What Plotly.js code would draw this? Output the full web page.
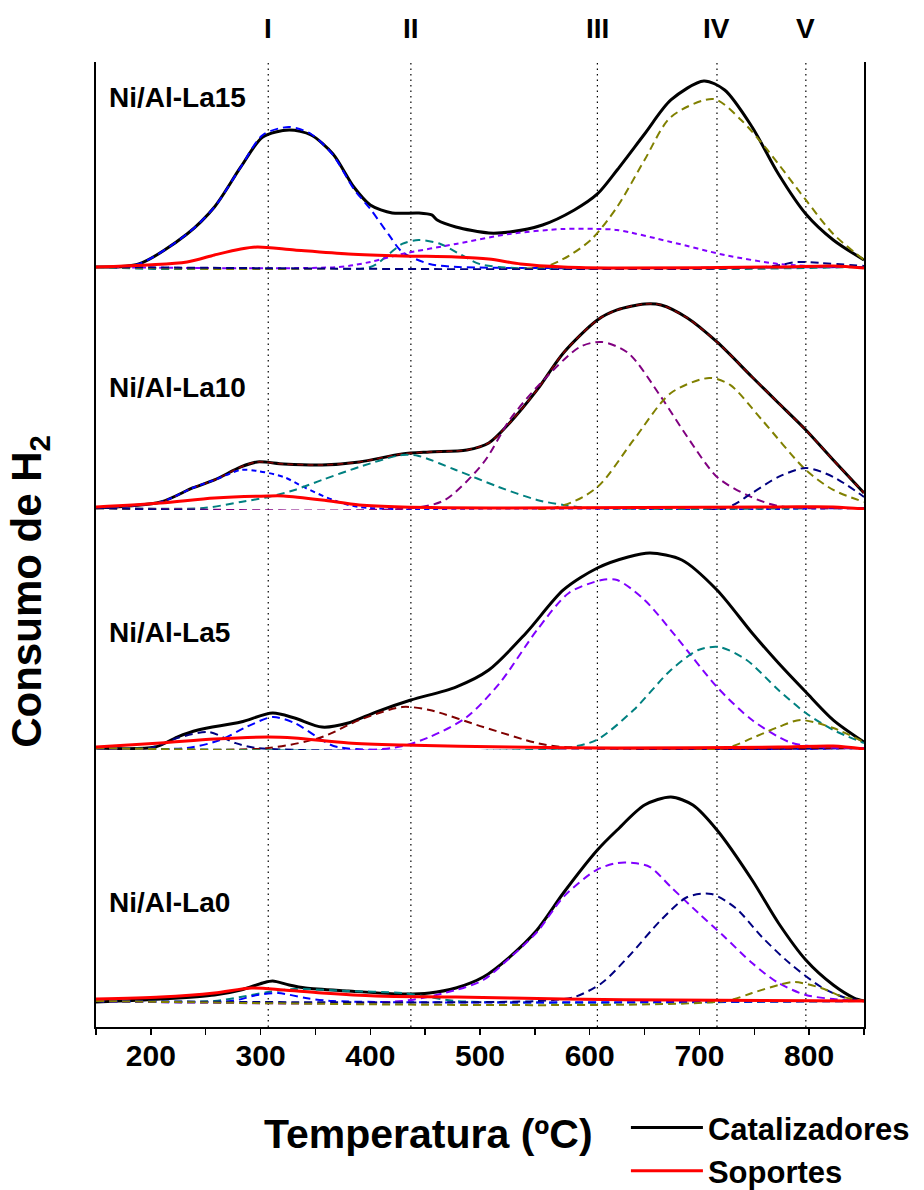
<!DOCTYPE html>
<html>
<head>
<meta charset="utf-8">
<script src="https://cdn.plot.ly/plotly-3.0.1.min.js"></script>
<style>html,body{margin:0;padding:0;background:#fff;}#chart{width:924px;height:1190px;}</style>
</head>
<body>
<div id="chart"></div>
<script>
// ---------- DATA (temperature in ºC, H2 consumption in a.u.) ----------
const peakPositions = [307, 437, 607, 716, 797];
const peakLabels = ['I', 'II', 'III', 'IV', 'V'];
const sampleNames = ['Ni/Al-La15', 'Ni/Al-La10', 'Ni/Al-La5', 'Ni/Al-La0'];
const xTickVals = [200, 300, 400, 500, 600, 700, 800];

// Ni/Al-La15
const la15TotalX = [150,189,233,258,282,302,326,346,366,385,400,420,444,456,461,478,508,527,557,586,607,625,650,674,704,723,748,772,797,822,850];
const la15TotalY = [0,3,33,60,100,130,137,132,113,80,62,54,54,52,47,40,34,35,42,57,73,97,133,167,186,177,140,93,53,27,7];
const la15SupX = [150,233,258,282,297,331,380,429,478,508,537,576,625,772,822,850];
const la15SupY = [0,5,12,18,20,17,13,11,10,8,3,0,-1,0,1,-1];
const la15BlueX = [150,189,233,258,282,302,326,346,366,385,400,417,429,454,480,850];
const la15BlueY = [0,3,33,60,100,132,140,133,112,78,58,32,15,3,0,0];
const la15TealX = [150,400,417,429,444,464,483,503,850];
const la15TealY = [0,0,13,23,27,23,12,2,0];
const la15VioletX = [150,371,400,429,478,527,576,607,625,674,723,772,822,850];
const la15VioletY = [0,0,5,13,23,33,38,38,37,25,12,3,0,0];
const la15OliveX = [150,557,576,601,625,650,674,713,738,762,797,822,850];
const la15OliveY = [0,0,8,27,60,107,150,168,147,117,67,33,7];
const la15NavyX = [150,760,790,810,850];
const la15NavyY = [0,0,5,4,1];

// Ni/Al-La10
const la10TotalX = [150,209,238,258,282,297,321,356,390,429,454,488,508,527,552,576,607,625,650,665,689,716,748,772,797,822,850];
const la10TotalY = [0,6,20,28,41,46,44,43,46,54,56,58,65,85,118,155,188,198,204,203,190,166,131,105,78,48,15];
const la10SupX = [150,209,258,307,321,356,390,429,527,772,822,850];
const la10SupY = [1,5,10,12,12,8,3,1,0,1,1,-1];
const la10BlueX = [150,209,238,258,282,297,321,341,366,390,850];
const la10BlueY = [0,6,20,28,38,37,31,20,8,1,0];
const la10TealX = [150,248,282,307,331,356,390,429,444,478,517,552,576,601,850];
const la10TealY = [0,0,6,11,18,28,41,53,52,38,21,8,3,0,0];
const la10PurpleX = [150,439,468,503,527,552,591,611,635,665,689,716,743,772,850];
const la10PurpleY = [0,0,8,45,88,121,161,166,155,111,71,31,13,2,0];
const la10OliveX = [150,567,606,640,674,709,728,757,797,822,850];
const la10OliveY = [0,0,20,68,115,130,123,88,38,18,6];
const la10NavyX = [150,723,748,772,797,822,850];
const la10NavyY = [0,0,15,31,40,31,11];

// Ni/Al-La5
const la5TotalX = [150,204,224,243,282,311,331,356,380,405,437,478,508,542,576,607,635,655,684,716,748,772,797,822,850];
const la5TotalY = [0,1,11,18,26,35,30,21,25,36,48,61,78,115,158,180,191,195,188,158,115,85,56,28,6];
const la5SupX = [150,209,258,307,331,380,429,527,625,772,822,850];
const la5SupY = [1,5,9,11,10,5,3,1,0,1,2,-1];
const la5NavyX = [150,199,224,253,277,297,850];
const la5NavyY = [0,0,10,16,5,0,0];
const la5BlueX = [150,233,263,287,311,331,356,370,850];
const la5BlueY = [0,0,8,21,31,25,8,1,0];
const la5MaroonX = [150,307,356,390,429,454,503,552,576,850];
const la5MaroonY = [0,0,11,28,41,38,21,5,1,0];
const la5VioletX = [150,420,454,488,518,552,581,611,625,650,679,716,748,782,811,850];
const la5VioletY = [0,0,11,31,65,118,155,168,168,148,111,61,28,6,1,0];
const la5TealX = [150,576,606,640,674,699,718,743,772,797,822,850];
const la5TealY = [0,0,8,38,78,98,101,88,58,35,18,5];
const la5OliveX = [150,723,748,772,792,822,850];
const la5OliveY = [0,0,10,21,28,20,6];

// Ni/Al-La0
const la0TotalX = [150,209,258,282,302,311,326,341,380,429,454,478,503,527,552,576,607,625,650,674,694,716,748,772,797,822,841,850];
const la0TotalY = [-1,2,6,11,18,20,16,13,10,7,8,13,24,44,71,108,151,171,196,204,196,171,121,78,41,16,3,0];
const la0SupX = [150,209,258,292,321,356,405,478,576,674,850];
const la0SupY = [2,4,8,13,11,8,5,4,2,1,0];
const la0TealX = [150,258,282,307,331,380,429,454,478,850];
const la0TealY = [0,0,4,9,12,10,8,4,0,0];
const la0BlueX = [150,273,297,316,341,366,850];
const la0BlueY = [0,0,6,8,3,0,0];
const la0VioletX = [150,429,478,503,527,552,576,606,625,640,655,674,699,723,748,772,797,822,850];
const la0VioletY = [0,0,11,21,43,69,104,131,138,138,134,114,88,64,38,18,6,2,0];
const la0NavyX = [150,552,586,611,635,665,689,711,733,757,782,811,831,850];
const la0NavyY = [0,0,4,18,44,81,104,107,93,64,38,14,4,0];
const la0OliveX = [150,723,748,772,787,811,831,850];
const la0OliveY = [0,0,8,16,19,13,4,0];

// ---------- STYLE ----------
const FONT = 'Arial, "Liberation Sans", sans-serif';
const C = {blue:'#0000FF', teal:'#008080', violet:'#8000FF', purple:'#800080', olive:'#808000', navy:'#000080', maroon:'#800000'};
const DASH = '8px,5px';
const SHORTDASH = '5px,4px';

function tr(x, y, yaxis, color, width, dash, name, showlegend) {
  return {
    type: 'scatter', mode: 'lines', x: x, y: y, xaxis: 'x', yaxis: yaxis,
    line: {color: color, width: width, dash: dash || 'solid', shape: 'spline', smoothing: 0.8},
    name: name || ' ', showlegend: !!showlegend, hoverinfo: 'skip'
  };
}

const traces = [
  // Panel La15 (top) -> y4
  tr(la15TotalX, la15TotalY, 'y4', '#000', 3, 'solid', 'Catalizadores', true),
  tr(la15BlueX, la15BlueY, 'y4', C.blue, 2, DASH),
  tr(la15TealX, la15TealY, 'y4', C.teal, 2, DASH),
  tr(la15VioletX, la15VioletY, 'y4', C.violet, 2, SHORTDASH),
  tr(la15OliveX, la15OliveY, 'y4', C.olive, 2, DASH),
  tr(la15NavyX, la15NavyY, 'y4', C.navy, 2, DASH),
  tr(la15SupX, la15SupY, 'y4', '#FF0000', 3, 'solid', 'Soportes', true),
  // Panel La10 -> y3
  tr(la10TotalX, la10TotalY, 'y3', '#000', 3, 'solid'),
  tr(la10TotalX, la10TotalY, 'y3', C.maroon, 1.5, '6px,4px'),
  tr(la10BlueX, la10BlueY, 'y3', C.blue, 2, SHORTDASH),
  tr(la10TealX, la10TealY, 'y3', C.teal, 2, DASH),
  tr(la10PurpleX, la10PurpleY, 'y3', C.purple, 2, DASH),
  tr(la10OliveX, la10OliveY, 'y3', C.olive, 2, DASH),
  tr(la10NavyX, la10NavyY, 'y3', C.navy, 2, DASH),
  tr(la10SupX, la10SupY, 'y3', '#FF0000', 3, 'solid'),
  // Panel La5 -> y2
  tr(la5TotalX, la5TotalY, 'y2', '#000', 3, 'solid'),
  tr(la5NavyX, la5NavyY, 'y2', C.navy, 2, DASH),
  tr(la5BlueX, la5BlueY, 'y2', C.blue, 2, DASH),
  tr(la5MaroonX, la5MaroonY, 'y2', C.maroon, 2, DASH),
  tr(la5VioletX, la5VioletY, 'y2', C.violet, 2, DASH),
  tr(la5TealX, la5TealY, 'y2', C.teal, 2, DASH),
  tr(la5OliveX, la5OliveY, 'y2', C.olive, 2, DASH),
  tr(la5SupX, la5SupY, 'y2', '#FF0000', 3, 'solid'),
  // Panel La0 (bottom) -> y
  tr(la0TotalX, la0TotalY, 'y', '#000', 3, 'solid'),
  tr(la0TealX, la0TealY, 'y', C.teal, 2, DASH),
  tr(la0BlueX, la0BlueY, 'y', C.blue, 2, DASH),
  tr(la0VioletX, la0VioletY, 'y', C.violet, 2, DASH),
  tr(la0NavyX, la0NavyY, 'y', C.navy, 2, DASH),
  tr(la0OliveX, la0OliveY, 'y', C.olive, 2, DASH),
  tr(la0SupX, la0SupY, 'y', '#FF0000', 3, 'solid')
];

function yax(domain, range) {
  return {domain: domain, range: range, anchor: 'x', showticklabels: false, ticks: '', showgrid: false,
          zeroline: false, showline: true, mirror: true, linecolor: '#000', linewidth: 2, fixedrange: true};
}

const shapes = peakPositions.map(p => ({
  type: 'line', xref: 'x', yref: 'paper', x0: p, x1: p, y0: 0, y1: 1, layer: 'below',
  line: {color: '#000', width: 1.2, dash: '1.5px,4px'}
}));

const labelY = [0.9627, 0.6622, 0.4093, 0.1295];
const annotations = [];
peakLabels.forEach((t, i) => annotations.push({
  text: t, xref: 'x', yref: 'paper', x: peakPositions[i], y: 1.0342, showarrow: false,
  xanchor: 'center', yanchor: 'middle', font: {family: FONT, size: 28, color: '#000', weight: 'bold'}
}));
sampleNames.forEach((t, i) => annotations.push({
  text: t, xref: 'paper', yref: 'paper', x: 0.014, y: labelY[i], showarrow: false,
  xanchor: 'left', yanchor: 'middle', font: {family: FONT, size: 28, color: '#000', weight: 'bold'}
}));
annotations.push({
  text: 'Consumo de H<sub>2</sub>', xref: 'paper', yref: 'paper', x: -0.086, y: 0.452, textangle: -90,
  showarrow: false, xanchor: 'center', yanchor: 'middle', font: {family: FONT, size: 42, color: '#000', weight: 'bold'}
});
annotations.push({
  text: 'Temperatura (ºC)', xref: 'paper', yref: 'paper', x: 0.433, y: -0.111, showarrow: false,
  xanchor: 'center', yanchor: 'middle', font: {family: FONT, size: 41, color: '#000', weight: 'bold'}
});

const layout = {
  width: 924, height: 1190,
  margin: {l: 96, r: 60, t: 62, b: 163, autoexpand: false},
  paper_bgcolor: '#fff', plot_bgcolor: '#fff',
  font: {family: FONT, color: '#000'},
  showlegend: true,
  legend: {x: 0.69, y: -0.0765, xanchor: 'left', yanchor: 'top', bgcolor: 'rgba(0,0,0,0)',
           font: {family: FONT, size: 31, color: '#000', weight: 'bold'}, itemwidth: 72, tracegroupgap: 0},
  xaxis: {range: [150, 850], anchor: 'y', showline: true, linecolor: '#000', linewidth: 2,
          ticks: 'outside', ticklen: 6, tickwidth: 1.5, tickcolor: '#000',
          tickvals: xTickVals, ticktext: xTickVals.map(String), ticklabelstandoff: -5,
          minor: {dtick: 50, tick0: 150, ticks: 'outside', ticklen: 6, tickwidth: 1.5, tickcolor: '#000'},
          showgrid: false, zeroline: false, fixedrange: true,
          tickfont: {family: FONT, size: 30, color: '#000', weight: 'bold'}},
  xaxis2: {range: [150, 850], overlaying: 'x', anchor: 'free', position: 1, side: 'top',
           showline: true, linecolor: '#000', linewidth: 2, ticks: 'inside', ticklen: 4, tickwidth: 1,
           tickvals: xTickVals, showticklabels: false, showgrid: false, zeroline: false, fixedrange: true},
  yaxis: yax([0, 0.2870], [-26, 251]),
  yaxis2: yax([0.2870, 0.5358], [-2, 238]),
  yaxis3: yax([0.5358, 0.7845], [-2, 238]),
  yaxis4: yax([0.7845, 1], [-3, 205]),
  shapes: shapes,
  annotations: annotations
};

Plotly.newPlot('chart', traces, layout, {staticPlot: true, displayModeBar: false});
</script>
</body>
</html>
